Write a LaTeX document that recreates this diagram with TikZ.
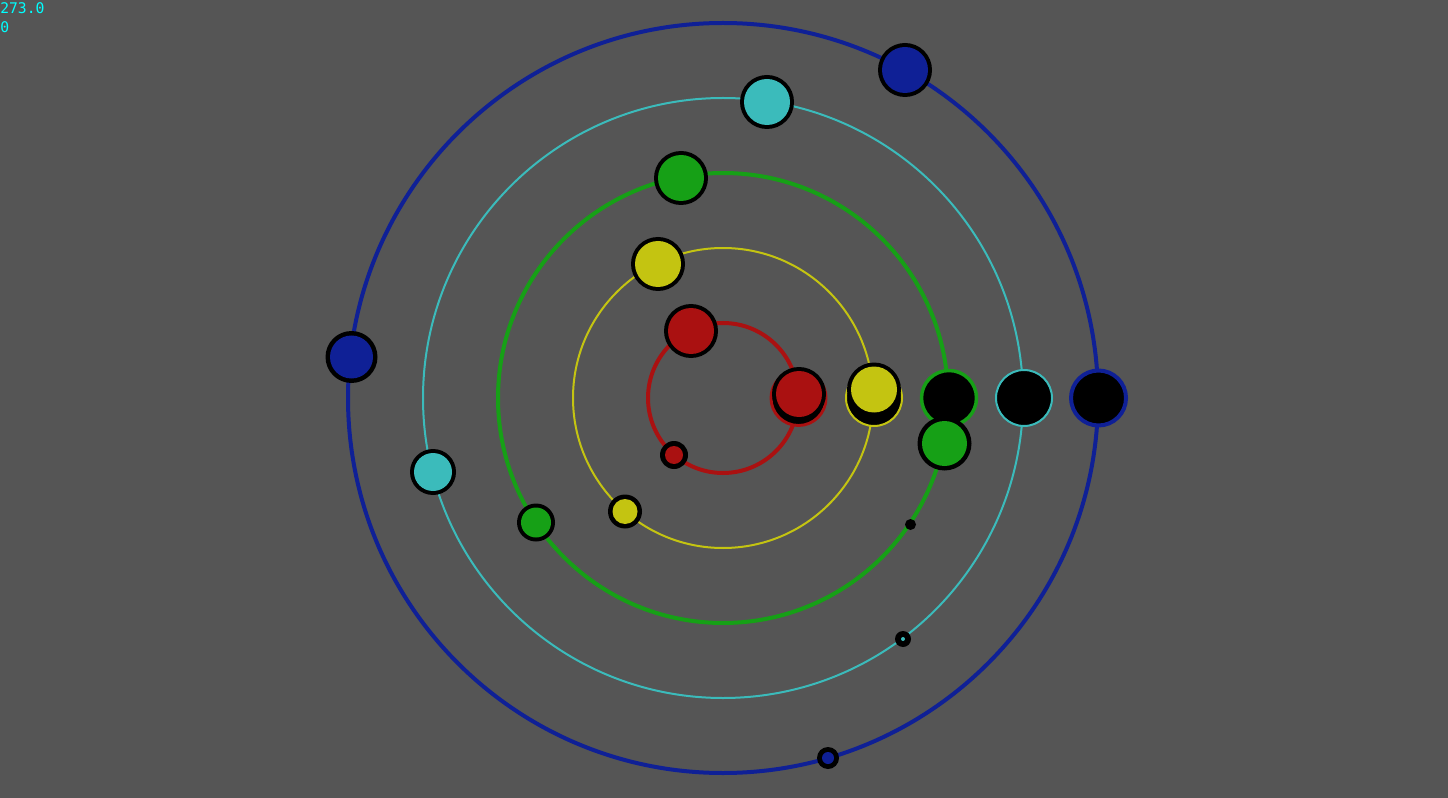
\documentclass[tikz,border=0pt]{standalone}
\usepackage{fontspec}
\newfontfamily\monofont{DejaVu Sans Mono}
\usepackage{tikz}
\usepackage{xcolor}
\definecolor{spacebg}{HTML}{555555}
\definecolor{planetred}{HTML}{AA1111}
\definecolor{planetyellow}{HTML}{C4C411}
\definecolor{planetgreen}{HTML}{16A016}
\definecolor{planetcyan}{HTML}{3BBBBB}
\definecolor{planetblue}{HTML}{0F2096}
\definecolor{readout}{HTML}{00FFFF}
\tikzset{
  orbit/.style={draw=#1,fill=none},
  shadowdisc/.style={draw=#1,fill=black},
  readouttext/.style={font=\monofont\fontsize{11pt}{13pt}\selectfont,
                      text=readout,inner sep=0pt,anchor=base west}
}

\begin{document}
\begin{tikzpicture}[x=0.75pt,y=0.75pt]
    \fill[spacebg] (0,0) rectangle (1448,-798);
    \path[use as bounding box] (0,0) rectangle (1448,-798);
    % orbits
    \foreach \rad/\oc/\ow in {75/planetred/3pt,150/planetyellow/1.5pt,
        225/planetgreen/3pt,300/planetcyan/1.5pt,375/planetblue/3pt}
      \draw[orbit=\oc,line width=\ow] (723,-398) circle (\rad);
    % black discs in a row
    \foreach \sx/\oc/\ow/\sr in {798.5/planetred/2.2pt/27.5,874/planetyellow/1.5pt/28,
        949/planetgreen/2.6pt/27.5,1024/planetcyan/1.5pt/28,1098.5/planetblue/3pt/27.5}
      \draw[shadowdisc=\oc,line width=\ow] (\sx,-398) circle (\sr);
    % planets
    \foreach \px/\py/\ro/\ri/\pc in {
        691/331/27/23/planetred, 674/455/14/9/planetred, 799/394/27/23/planetred,
        658/264/27/23/planetyellow, 625/511.5/17/12.5/planetyellow,
        874/389.5/27/23/planetyellow,
        681/178/27/23/planetgreen, 536/522.5/19/15/planetgreen,
        944.5/443.5/27/22.5/planetgreen, 910.5/524.5/5.5/0/planetgreen,
        767/102/27/23/planetcyan, 433/472/23/19/planetcyan,
        903/639/8/2/planetcyan,
        905/70/27/23/planetblue, 351.5/357/26/21.5/planetblue,
        828/758/11/6/planetblue} {
      \fill[black] (\px,-\py) circle (\ro);
      \fill[\pc] (\px,-\py) circle (\ri);
    }
    \node[readouttext] (angle) at (0,-14) {273.0};
    \node[readouttext] (count) at (0,-33) {0};
  \end{tikzpicture}
\end{document}
